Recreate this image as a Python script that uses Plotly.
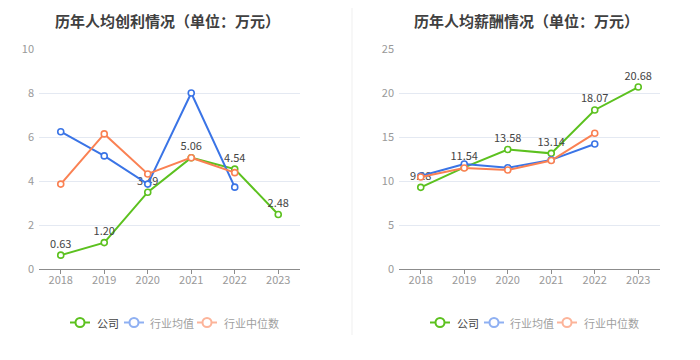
import plotly.graph_objects as go

years = ["2018", "2019", "2020", "2021", "2022", "2023"]

profit_company = [0.63, 1.20, 3.49, 5.06, 4.54, 2.48]
profit_avg = [6.24, 5.14, 3.86, 8.00, 3.72, None]
profit_median = [3.86, 6.14, 4.32, 5.06, 4.38, None]

salary_company = [9.28, 11.54, 13.58, 13.14, 18.07, 20.68]
salary_avg = [10.57, 11.93, 11.51, 12.40, 14.20, None]
salary_median = [10.45, 11.48, 11.25, 12.33, 15.42, None]

series_names = ["公司", "行业均值", "行业中位数"]
titles = ["历年人均创利情况（单位：万元）", "历年人均薪酬情况（单位：万元）"]

colors = ["#5cc11f", "#3a74e6", "#fa8153"]
legend_colors = ["#5cc11f", "#8fb0f2", "#fcb49a"]
legend_text = ["#444444", "#a0a0a0", "#a0a0a0"]

FONT = "Noto Sans CJK SC, sans-serif"
W, H = 700, 360
OFF = 8  # page body offset of the plot div


def px(x):
    return (x - OFF) / W


def py(y):
    return 1 - (y - OFF) / H


fig = go.Figure()


def add_panel(xa, ya, data):
    for i, (vals, col) in enumerate(zip(data, colors)):
        is_company = i == 0
        fig.add_trace(go.Scatter(
            x=years, y=vals, xaxis=xa, yaxis=ya,
            mode="lines+markers+text" if is_company else "lines+markers",
            text=[f"{v:.2f}" for v in vals] if is_company else None,
            textposition="top center",
            textfont=dict(size=11, color="#444444", family=FONT),
            line=dict(color=col, width=2),
            marker=dict(symbol="circle", size=6, color="white",
                        line=dict(color=col, width=1.6)),
            name=series_names[i],
            showlegend=False, cliponaxis=False, hoverinfo="skip",
        ))


add_panel("x", "y", [profit_company, profit_avg, profit_median])
add_panel("x2", "y2", [salary_company, salary_avg, salary_median])

ydom = [py(269), py(49)]
xcommon = dict(type="category", range=[-0.5, 5.5], showgrid=False,
               showline=True, linecolor="#8c8c8c", linewidth=1,
               ticks="outside", ticklen=4, tickcolor="#8c8c8c",
               ticklabelstandoff=-3, automargin=False,
               tickfont=dict(size=11, color="#999999", family=FONT),
               fixedrange=True, zeroline=False)
ycommon = dict(showgrid=True, gridcolor="#e4e9f2", gridwidth=1,
               zeroline=False, showline=False, ticks="",
               ticklabelstandoff=4, automargin=False,
               tickfont=dict(size=11, color="#999999", family=FONT),
               fixedrange=True)

annotations = []
shapes = []
for p, dx in enumerate([0, 360]):
    annotations.append(dict(
        text=f"<b>{titles[p]}</b>", x=px([167, 526][p]), y=1,
        xref="paper", yref="paper", showarrow=False, xanchor="center", yanchor="top",
        font=dict(size=15, color="#404040", family=FONT)))
    # manual legend
    icon_left = [70, 124, 197]
    text_left = [95, 148, 222]
    ly = py(322.5)
    for i in range(3):
        x0 = icon_left[i] + dx
        shapes.append(dict(type="line", xref="paper", yref="paper",
                           x0=px(x0), x1=px(x0 + 20), y0=ly, y1=ly,
                           line=dict(color=legend_colors[i], width=2)))
        shapes.append(dict(type="circle", xref="paper", yref="paper",
                           xsizemode="pixel", ysizemode="pixel",
                           xanchor=px(x0 + 10), yanchor=ly,
                           x0=-4.5, x1=4.5, y0=-4.5, y1=4.5,
                           fillcolor="white",
                           line=dict(color=legend_colors[i], width=2)))
        annotations.append(dict(
            text=series_names[i], x=px(text_left[i] + dx), y=ly,
            xref="paper", yref="paper", showarrow=False,
            xanchor="left", yanchor="middle",
            font=dict(size=11, color=legend_text[i], family=FONT)))

shapes.append(dict(type="line", xref="paper", yref="paper", x0=px(352), x1=px(352),
                   y0=py(335), y1=1, line=dict(color="#efefef", width=1)))

fig.update_layout(
    width=W, height=H,
    margin=dict(l=0, r=0, t=0, b=0, autoexpand=False),
    paper_bgcolor="white", plot_bgcolor="white",
    showlegend=False,
    xaxis=dict(domain=[px(39), px(300)], anchor="y", **xcommon),
    yaxis=dict(domain=ydom, anchor="x", range=[0, 10], dtick=2, **ycommon),
    xaxis2=dict(domain=[px(399), px(660)], anchor="y2", **xcommon),
    yaxis2=dict(domain=ydom, anchor="x2", range=[0, 25], dtick=5, **ycommon),
    annotations=annotations,
    shapes=shapes,
)

fig.write_html("out.html")
